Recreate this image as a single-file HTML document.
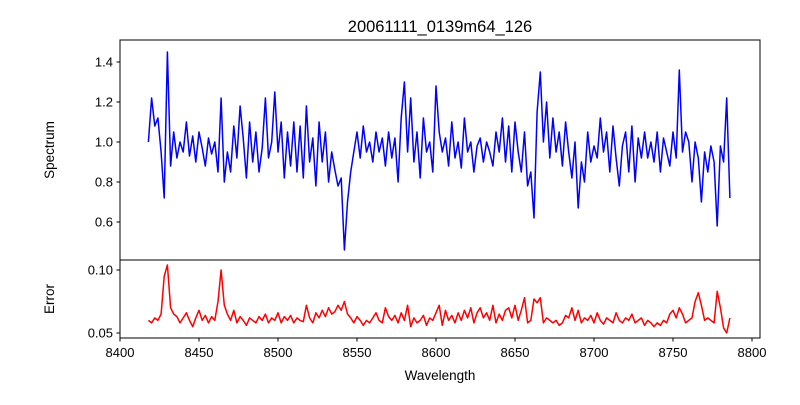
<!DOCTYPE html>
<html><head><meta charset="utf-8"><style>
body{margin:0;background:#fff}
svg text{font-family:"Liberation Sans","DejaVu Sans",sans-serif;fill:#000}
</style></head><body>
<svg id="chart" width="800" height="400" xmlns="http://www.w3.org/2000/svg">
<rect width="800" height="400" fill="#fff"/>
<text x="440" y="32" font-size="16.5" text-anchor="middle">20061111_0139m64_126</text>
<g id="gtop"></g>
<g id="gbot"></g>
<text transform="translate(54,150) rotate(-90)" font-size="13.5" text-anchor="middle">Spectrum</text>
<text transform="translate(54,299) rotate(-90)" font-size="13.5" text-anchor="middle">Error</text>
<text x="440" y="380" font-size="13.5" text-anchor="middle">Wavelength</text>
</svg>
<script>
const waveStart = 8418;
const waveStep = 2;
const spectrum = [1.0,1.22,1.08,1.12,0.95,0.72,1.45,0.88,1.05,0.92,1.0,0.95,1.1,0.93,1.03,0.9,1.05,0.97,0.88,1.02,0.94,1.0,0.85,1.22,0.8,0.95,0.85,1.08,0.92,1.18,1.02,0.82,1.1,0.9,1.05,0.85,0.97,1.22,0.92,1.0,1.25,0.95,1.1,0.82,1.05,0.88,1.1,0.85,1.08,0.82,1.18,0.9,1.02,0.78,1.1,0.9,1.05,0.8,0.95,0.86,0.78,0.82,0.46,0.7,0.85,0.95,1.05,0.92,1.08,0.95,1.0,0.9,1.05,0.95,1.02,0.88,1.05,0.92,1.02,0.8,1.12,1.3,0.95,1.22,0.9,1.05,0.82,1.12,0.95,1.0,0.85,1.28,1.05,0.95,1.02,0.88,1.1,0.92,1.0,0.87,1.12,0.95,1.0,0.85,0.98,1.02,0.9,1.0,0.95,0.88,1.05,0.95,1.12,0.9,1.08,0.85,1.1,0.95,0.85,1.05,0.78,0.85,0.62,1.15,1.35,1.0,1.2,0.92,1.12,0.95,1.05,0.88,1.1,0.95,0.82,1.0,0.67,0.9,0.8,1.05,0.9,0.98,0.92,1.12,0.95,1.05,0.85,1.08,0.92,0.78,0.98,1.05,0.85,1.08,0.8,1.02,0.92,1.05,0.92,1.0,0.9,1.05,0.85,1.02,0.95,0.88,1.05,0.92,1.36,0.95,1.05,1.0,0.8,1.0,0.92,0.7,0.95,0.85,0.98,0.9,0.58,0.98,0.9,1.22,0.72];
const errors = [0.06,0.058,0.062,0.06,0.065,0.095,0.104,0.07,0.065,0.063,0.058,0.062,0.066,0.06,0.055,0.062,0.068,0.06,0.064,0.058,0.063,0.06,0.075,0.1,0.072,0.065,0.06,0.068,0.058,0.063,0.06,0.056,0.062,0.06,0.058,0.063,0.06,0.065,0.058,0.062,0.06,0.066,0.058,0.063,0.06,0.064,0.058,0.062,0.06,0.059,0.072,0.062,0.058,0.066,0.062,0.068,0.063,0.07,0.065,0.067,0.072,0.068,0.075,0.065,0.062,0.058,0.063,0.06,0.056,0.06,0.058,0.062,0.066,0.06,0.058,0.07,0.063,0.06,0.064,0.058,0.066,0.06,0.072,0.055,0.062,0.058,0.06,0.064,0.056,0.062,0.06,0.066,0.072,0.056,0.068,0.06,0.064,0.058,0.066,0.06,0.068,0.062,0.07,0.058,0.066,0.07,0.062,0.066,0.06,0.072,0.058,0.065,0.06,0.068,0.07,0.062,0.072,0.06,0.068,0.078,0.058,0.06,0.077,0.074,0.078,0.058,0.062,0.06,0.058,0.06,0.056,0.058,0.064,0.062,0.07,0.06,0.068,0.058,0.062,0.06,0.064,0.058,0.066,0.06,0.057,0.062,0.06,0.058,0.066,0.06,0.058,0.062,0.06,0.065,0.058,0.06,0.062,0.056,0.06,0.058,0.055,0.058,0.056,0.06,0.058,0.065,0.068,0.062,0.07,0.065,0.058,0.06,0.062,0.075,0.082,0.072,0.06,0.062,0.06,0.058,0.083,0.07,0.054,0.05,0.062];
const xTicks = [8400,8450,8500,8550,8600,8650,8700,8750,8800];
const specTicks = [0.6,0.8,1.0,1.2,1.4];
const errTicks = [0.05,0.10];

const NS='http://www.w3.org/2000/svg';
const L=120,R=760;
const xs=v=>L+(v-8400)*(752-120)/400;
const ysTop=v=>142-(v-1.0)*200;
const ysBot=v=>333-(v-0.05)*(63/0.05);
function mk(tag,attrs,parent){const e=document.createElementNS(NS,tag);for(const k in attrs)e.setAttribute(k,attrs[k]);parent.appendChild(e);return e;}
const gTop=document.getElementById('gtop'), gBot=document.getElementById('gbot');

function panel(g,y0,y1,vals,ys,color,ticks,fmt,nm){
  let d='';
  vals.forEach((v,i)=>{const w=waveStart+i*waveStep;d+=(i?'L':'M')+xs(w).toFixed(1)+','+ys(v).toFixed(1);});
  const p=mk('path',{d:d,fill:'none',stroke:color,'stroke-width':1.5,'stroke-linejoin':'round'},g);
  
  
  const fr=mk('rect',{x:L,y:y0,width:R-L,height:y1-y0,fill:'none',stroke:'#000','stroke-width':1},g);
  
  
  ticks.forEach(t=>{
    const y=ys(t);
    const tk=mk('line',{x1:L-3.5,x2:L,y1:y,y2:y,stroke:'#000'},g);
    
    
    const tx=mk('text',{x:L-7,y:y+4.5,'font-size':13,'text-anchor':'end'},g);
    
    
    tx.textContent=fmt(t);
  });
}
panel(gTop,40,260,spectrum,ysTop,'#0000ff',specTicks,t=>t.toFixed(1),'spectrum');
panel(gBot,260,338,errors,ysBot,'#ff0000',errTicks,t=>t.toFixed(2),'error');
xTicks.forEach(t=>{
  const x=xs(t);
  const tk=mk('line',{x1:x,x2:x,y1:338,y2:341.5,stroke:'#000'},gBot);
  
  
  const tx=mk('text',{x:x,y:357,'font-size':13,'text-anchor':'middle'},gBot);
  
  
  tx.textContent=t;
});
</script>
</body></html>
